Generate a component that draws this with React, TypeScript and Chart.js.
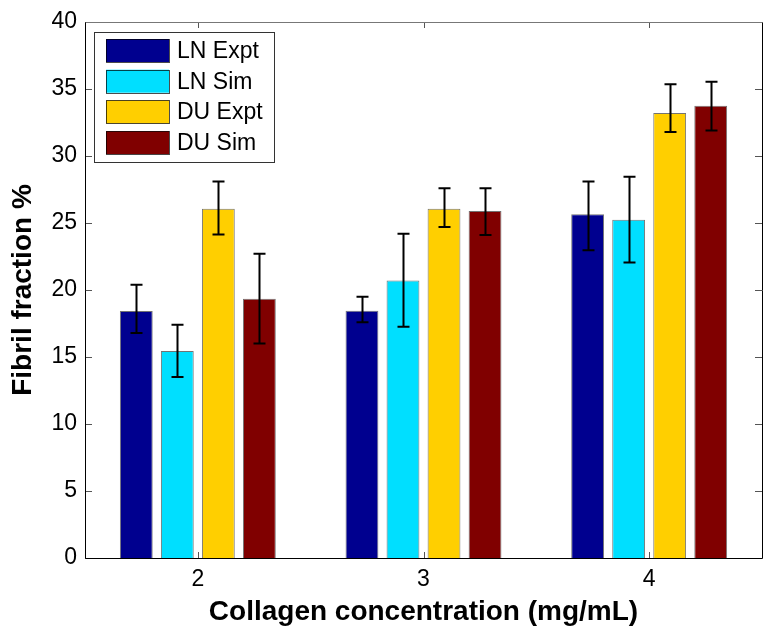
import React, { useEffect, useRef } from 'react';
import { Chart, registerables } from 'chart.js';

Chart.register(...registerables);

// ---- data ----
const categories = ['2', '3', '4'];
const seriesLabels = ['LN Expt', 'LN Sim', 'DU Expt', 'DU Sim'];
const seriesColors = ['#00008F', '#00DFFF', '#FFCF00', '#800000'];

const lnExpt = [18.43, 18.45, 25.65];
const lnExptLow = [16.8, 17.6, 22.96];
const lnExptHigh = [20.4, 19.5, 28.1];

const lnSim = [15.45, 20.7, 25.25];
const lnSimLow = [13.5, 17.25, 22.05];
const lnSimHigh = [17.4, 24.2, 28.45];

const duExpt = [26.07, 26.07, 33.2];
const duExptLow = [24.15, 24.7, 31.8];
const duExptHigh = [28.1, 27.6, 35.35];

const duSim = [19.35, 25.9, 33.75];
const duSimLow = [16.0, 24.1, 31.9];
const duSimHigh = [22.7, 27.6, 35.55];

const yMin = 0;
const yMax = 40;
const yStep = 5;

const xTitle = 'Collagen concentration (mg/mL)';
const yTitle = 'Fibril fraction %';

const FONT = '"Liberation Sans", Arial, Helvetica, sans-serif';

const errorBarPlugin = {
  id: 'errorBars',
  afterDatasetsDraw(chart: any) {
    const ctx = chart.ctx;
    const yScale = chart.scales.y;
    ctx.save();
    ctx.strokeStyle = '#000';
    ctx.lineWidth = 2;
    chart.data.datasets.forEach((ds: any, di: number) => {
      const meta = chart.getDatasetMeta(di);
      meta.data.forEach((el: any, i: number) => {
        const x = Math.round(el.x) + 0.5;
        const yh = yScale.getPixelForValue(ds.errHigh[i]);
        const yl = yScale.getPixelForValue(ds.errLow[i]);
        const cap = 6;
        ctx.beginPath();
        ctx.moveTo(x, yh);
        ctx.lineTo(x, yl);
        ctx.moveTo(x - cap, yh);
        ctx.lineTo(x + cap, yh);
        ctx.moveTo(x - cap, yl);
        ctx.lineTo(x + cap, yl);
        ctx.stroke();
      });
    });
    ctx.restore();
  },
};

const framePlugin = {
  id: 'frame',
  afterDraw(chart: any) {
    const ctx = chart.ctx;
    const { left, right, top, bottom } = chart.chartArea;
    const xs = chart.scales.x;
    const ys = chart.scales.y;
    ctx.save();
    // ticks
    ctx.strokeStyle = '#555';
    ctx.lineWidth = 1;
    ctx.beginPath();
    ys.ticks.forEach((t: any) => {
      const y = Math.round(ys.getPixelForValue(t.value)) + 0.5;
      ctx.moveTo(left, y);
      ctx.lineTo(left + 7, y);
      ctx.moveTo(right, y);
      ctx.lineTo(right - 7, y);
    });
    categories.forEach((_c, i) => {
      const x = Math.round(xs.getPixelForTick(i)) + 0.5;
      ctx.moveTo(x, bottom);
      ctx.lineTo(x, bottom - 6);
      ctx.moveTo(x, top);
      ctx.lineTo(x, top + 6);
    });
    ctx.stroke();
    // frame
    const l = Math.round(left) + 0.5;
    const r = Math.round(right) + 0.5;
    const t = Math.round(top) + 0.5;
    const b = Math.round(bottom) + 0.5;
    ctx.strokeStyle = '#777';
    ctx.beginPath();
    ctx.moveTo(l, t);
    ctx.lineTo(r, t);
    ctx.stroke();
    ctx.strokeStyle = '#000';
    ctx.beginPath();
    ctx.moveTo(l, t);
    ctx.lineTo(l, b);
    ctx.lineTo(r, b);
    ctx.lineTo(r, t);
    ctx.stroke();

    // legend
    const lx = left + 9;
    const ly = top + 10;
    const lw = 180;
    const lh = 130;
    ctx.fillStyle = '#fff';
    ctx.fillRect(lx, ly, lw, lh);
    ctx.strokeStyle = '#333';
    ctx.strokeRect(Math.round(lx) + 0.5, Math.round(ly) + 0.5, lw, lh);
    ctx.font = `23px ${FONT}`;
    ctx.textBaseline = 'middle';
    ctx.textAlign = 'left';
    chart.data.datasets.forEach((ds: any, i: number) => {
      const sy = ly + 7 + i * 30.7;
      ctx.fillStyle = ds.backgroundColor;
      ctx.fillRect(lx + 12, sy, 63, 23);
      ctx.strokeStyle = 'rgba(0,0,0,0.7)';
      ctx.strokeRect(Math.round(lx + 12) + 0.5, Math.round(sy) + 0.5, 63, 23);
      ctx.fillStyle = '#000';
      ctx.fillText(ds.label, lx + 83, sy + 12.5);
    });
    ctx.restore();
  },
};

function buildDatasets() {
  const vals = [lnExpt, lnSim, duExpt, duSim];
  const lows = [lnExptLow, lnSimLow, duExptLow, duSimLow];
  const highs = [lnExptHigh, lnSimHigh, duExptHigh, duSimHigh];
  return vals.map((v, i) => ({
    label: seriesLabels[i],
    data: v,
    errLow: lows[i],
    errHigh: highs[i],
    backgroundColor: seriesColors[i],
    borderColor: 'rgba(0,0,0,0.55)',
    borderWidth: 1,
    categoryPercentage: 4 / 5.5,
    barPercentage: 0.8,
  }));
}

export default function App() {
  const ref = useRef<HTMLCanvasElement | null>(null);
  useEffect(() => {
    if (!ref.current) return;
    const chart = new Chart(ref.current, {
      type: 'bar',
      data: { labels: categories, datasets: buildDatasets() as any },
      options: {
        responsive: false,
        animation: false,
        layout: { padding: { top: 22, right: 14, bottom: 0, left: 0 } },
        plugins: {
          legend: { display: false },
          tooltip: { enabled: false },
        },
        scales: {
          x: {
            offset: true,
            grid: { display: false, drawTicks: false },
            border: { display: false },
            ticks: { color: '#000', font: { family: FONT, size: 23 }, padding: 8 },
            title: {
              display: true,
              text: xTitle,
              color: '#000',
              font: { family: FONT, size: 28, weight: 'bold', lineHeight: 1 },
              padding: { top: 0, bottom: 13 },
            },
            afterFit: (s: any) => {
              s.height = 81;
            },
          },
          y: {
            min: yMin,
            max: yMax,
            grid: { display: false, drawTicks: false },
            border: { display: false },
            ticks: {
              stepSize: yStep,
              color: '#000',
              font: { family: FONT, size: 23 },
              padding: 8,
            },
            title: {
              display: true,
              text: yTitle,
              color: '#000',
              font: { family: FONT, size: 28, weight: 'bold', lineHeight: 1.2 },
              padding: { top: 6, bottom: 0 },
            },
            afterFit: (s: any) => {
              s.width = 85;
            },
          },
        },
      },
      plugins: [errorBarPlugin, framePlugin],
    });
    return () => chart.destroy();
  }, []);
  return (
    <div style={{ position: 'absolute', left: 0, top: 0, width: 776, height: 639, background: '#fff' }}>
      <canvas ref={ref} width={776} height={639} />
    </div>
  );
}
